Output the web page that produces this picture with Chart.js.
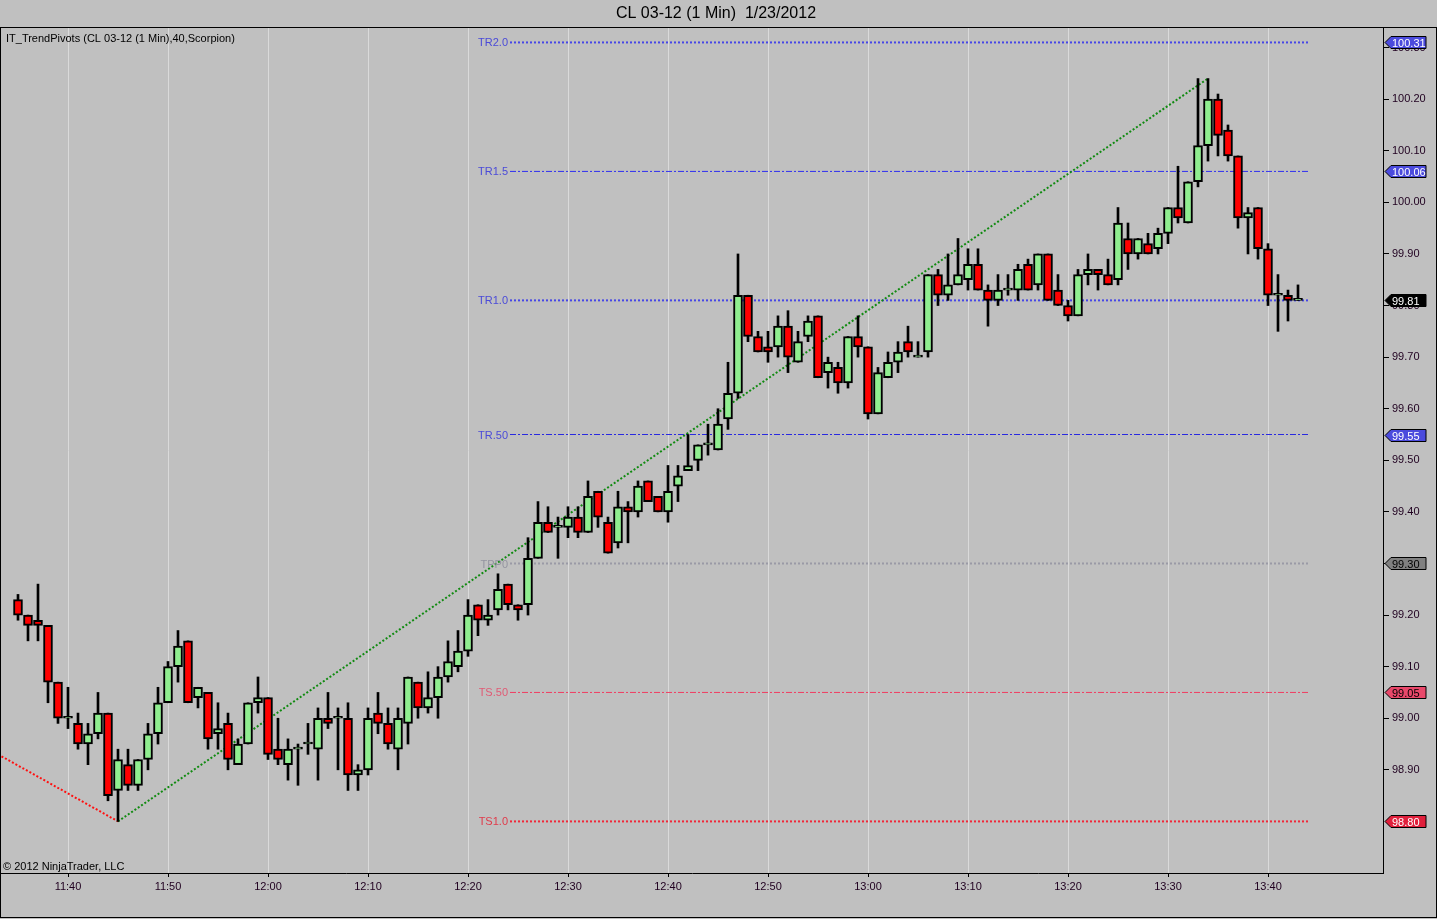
<!DOCTYPE html>
<html>
<head>
<meta charset="utf-8">
<title>CL 03-12 (1 Min) 1/23/2012</title>
<script src="https://cdn.jsdelivr.net/npm/chart.js@4.4.0/dist/chart.umd.min.js"></script>
<style>
  html, body { margin: 0; padding: 0; background: #c0c0c0; }
  #wrap { width: 1437px; height: 919px; position: relative; }
</style>
</head>
<body>
<div id="wrap"><canvas id="priceChart"></canvas></div>
<script>
// 1 minute bars, first bar at 11:35 (minutes counted from 11:00)
const firstBarMinute = 35;

const opens = [
  99.23, 99.20, 99.19, 99.18, 99.07, 99.00, 98.99, 98.95, 98.97, 99.01,
  98.86, 98.91, 98.87, 98.92, 98.97, 99.03, 99.10, 99.15, 99.04, 99.05,
  98.97, 98.99, 98.91, 98.95, 99.03, 99.04, 98.94, 98.91, 98.94, 98.95,
  98.94, 99.00, 99.00, 99.00, 98.89, 98.90, 99.01, 98.99, 98.94, 98.99,
  99.07, 99.02, 99.04, 99.08, 99.10, 99.13, 99.22, 99.19, 99.21, 99.26,
  99.22, 99.22, 99.31, 99.38, 99.37, 99.37, 99.39, 99.36, 99.44, 99.38,
  99.34, 99.41, 99.40, 99.46, 99.43, 99.40, 99.45, 99.48, 99.50, 99.53,
  99.52, 99.58, 99.63, 99.82, 99.74, 99.72, 99.72, 99.76, 99.69, 99.74,
  99.78, 99.67, 99.68, 99.65, 99.74, 99.72, 99.59, 99.66, 99.69, 99.73,
  99.70, 99.71, 99.86, 99.82, 99.84, 99.85, 99.88, 99.83, 99.81, 99.83,
  99.83, 99.88, 99.84, 99.90, 99.83, 99.80, 99.78, 99.86, 99.87, 99.86,
  99.85, 99.93, 99.90, 99.92, 99.91, 99.94, 99.99, 99.96, 100.04, 100.11,
  100.20, 100.14, 100.09, 99.97, 99.99, 99.91, 99.82, 99.82, 99.81
];
const highs = [
  99.24, 99.20, 99.26, 99.18, 99.07, 99.06, 99.01, 98.99, 99.05, 99.01,
  98.94, 98.94, 98.92, 98.99, 99.06, 99.11, 99.17, 99.15, 99.06, 99.05,
  99.03, 99.01, 98.96, 99.03, 99.08, 99.04, 99.00, 98.96, 98.95, 98.99,
  99.02, 99.05, 99.02, 99.03, 98.91, 99.02, 99.05, 99.02, 99.02, 99.08,
  99.07, 99.09, 99.10, 99.15, 99.17, 99.23, 99.22, 99.23, 99.28, 99.26,
  99.22, 99.35, 99.42, 99.41, 99.39, 99.41, 99.41, 99.46, 99.44, 99.39,
  99.44, 99.42, 99.46, 99.46, 99.43, 99.49, 99.49, 99.55, 99.53, 99.57,
  99.60, 99.69, 99.90, 99.82, 99.75, 99.75, 99.78, 99.79, 99.75, 99.78,
  99.78, 99.70, 99.69, 99.74, 99.78, 99.72, 99.68, 99.71, 99.73, 99.76,
  99.73, 99.86, 99.87, 99.90, 99.93, 99.91, 99.91, 99.84, 99.86, 99.86,
  99.88, 99.89, 99.90, 99.90, 99.86, 99.81, 99.87, 99.90, 99.87, 99.89,
  99.99, 99.96, 99.93, 99.94, 99.95, 99.99, 100.07, 100.04, 100.24, 100.24,
  100.21, 100.15, 100.09, 99.99, 99.99, 99.92, 99.86, 99.83, 99.84
];
const lows = [
  99.19, 99.15, 99.15, 99.03, 98.99, 98.98, 98.94, 98.91, 98.96, 98.84,
  98.80, 98.86, 98.86, 98.90, 98.95, 99.03, 99.07, 99.03, 99.02, 98.94,
  98.94, 98.90, 98.91, 98.95, 99.01, 98.92, 98.91, 98.88, 98.87, 98.93,
  98.88, 98.98, 98.90, 98.86, 98.86, 98.89, 98.97, 98.94, 98.90, 98.95,
  99.00, 99.01, 99.00, 99.07, 99.09, 99.12, 99.16, 99.18, 99.20, 99.21,
  99.19, 99.20, 99.31, 99.36, 99.31, 99.35, 99.35, 99.36, 99.37, 99.32,
  99.33, 99.34, 99.39, 99.42, 99.40, 99.38, 99.42, 99.48, 99.48, 99.51,
  99.52, 99.56, 99.62, 99.73, 99.71, 99.69, 99.70, 99.67, 99.69, 99.73,
  99.66, 99.64, 99.63, 99.64, 99.70, 99.58, 99.59, 99.66, 99.67, 99.70,
  99.70, 99.70, 99.80, 99.81, 99.84, 99.83, 99.83, 99.76, 99.80, 99.82,
  99.81, 99.83, 99.83, 99.81, 99.80, 99.77, 99.78, 99.84, 99.83, 99.84,
  99.84, 99.87, 99.89, 99.90, 99.90, 99.92, 99.96, 99.96, 100.03, 100.08,
  100.09, 100.08, 99.95, 99.90, 99.89, 99.80, 99.75, 99.77, 99.81
];
const closes = [
  99.20, 99.18, 99.18, 99.07, 99.00, 99.00, 98.95, 98.97, 99.01, 98.85,
  98.92, 98.87, 98.92, 98.97, 99.03, 99.10, 99.14, 99.03, 99.06, 98.96,
  98.98, 98.92, 98.95, 99.03, 99.04, 98.93, 98.92, 98.94, 98.94, 98.95,
  99.00, 98.99, 99.00, 98.89, 98.90, 99.00, 98.99, 98.95, 99.00, 99.08,
  99.02, 99.04, 99.08, 99.11, 99.13, 99.20, 99.19, 99.20, 99.25, 99.22,
  99.21, 99.31, 99.38, 99.36, 99.37, 99.39, 99.36, 99.43, 99.39, 99.32,
  99.41, 99.40, 99.45, 99.42, 99.40, 99.44, 99.47, 99.49, 99.53, 99.53,
  99.57, 99.63, 99.82, 99.74, 99.71, 99.71, 99.76, 99.70, 99.73, 99.77,
  99.66, 99.69, 99.65, 99.74, 99.72, 99.59, 99.67, 99.69, 99.71, 99.71,
  99.70, 99.86, 99.82, 99.84, 99.86, 99.88, 99.83, 99.81, 99.83, 99.83,
  99.87, 99.83, 99.90, 99.81, 99.80, 99.78, 99.86, 99.87, 99.86, 99.84,
  99.96, 99.90, 99.93, 99.90, 99.94, 99.99, 99.97, 100.04, 100.11, 100.20,
  100.13, 100.09, 99.97, 99.98, 99.91, 99.82, 99.82, 99.81, 99.81
];

// trend lines (minute, price)
const upTrendX = [45, 154];
const upTrendY = [98.80, 100.24];
const downTrendX = [33, 45];
const downTrendY = [98.93, 98.80];

// pivot levels drawn by IT_TrendPivots
const pivotNames = ['TR2.0', 'TR1.5', 'TR1.0', 'TR.50', 'TPP0', 'TS.50', 'TS1.0'];
const pivotValues = [100.31, 100.06, 99.81, 99.55, 99.30, 99.05, 98.80];
const pivotStart = 84.2;
const pivotEnd = 164;
const pivotColors = ['#4646e6', '#2e2ef0', '#4646e6', '#2a2ae0', '#9a9aa6', '#f03c60', '#f02838'];
const pivotLabelColors = ['#4a4ad8', '#4a4ad8', '#4a4ad8', '#4a4ad8', '#9494a0', '#e05a74', '#e03a4a'];
const pivotDashes = [[2, 2], [6, 2, 2, 2], [2, 2], [6, 2, 2, 2], [2, 2], [6, 2, 2, 2], [2, 2]];
const pivotWidths = [2, 1, 2, 1, 2, 1, 2];

// right hand price markers
const markerValues = [100.31, 100.06, 99.81, 99.55, 99.30, 99.05, 98.80];
const markerFills = ['#4b4bdd', '#4b4bdd', '#000000', '#4b4bdd', '#808080', '#e8486a', '#e0203c'];
const markerText = ['#ffffff', '#ffffff', '#ffffff', '#ffffff', '#000000', '#000000', '#ffffff'];

const xTickMinutes = [40, 50, 60, 70, 80, 90, 100, 110, 120, 130, 140, 150, 160];
const xTickLabels = ['11:40', '11:50', '12:00', '12:10', '12:20', '12:30', '12:40', '12:50', '13:00', '13:10', '13:20', '13:30', '13:40'];
const yTickValues = [98.90, 99.00, 99.10, 99.20, 99.30, 99.40, 99.50, 99.60, 99.70, 99.80, 99.90, 100.00, 100.10, 100.20, 100.30];

const FONT = '"Liberation Sans", Arial, sans-serif';
Chart.defaults.font.family = FONT;

const bodies = opens.map((o, i) => ({ x: firstBarMinute + i, y: [o, closes[i]] }));
const wicks = highs.map((h, i) => ({ x: firstBarMinute + i, y: [lows[i], h] }));
const bodyColors = opens.map((o, i) => closes[i] >= o ? '#90ee90' : '#ff0000');

const pivotSets = pivotValues.map((v, i) => ({
  type: 'line',
  data: [{ x: pivotStart, y: v }, { x: pivotEnd, y: v }],
  borderColor: pivotColors[i],
  borderWidth: pivotWidths[i],
  borderDash: pivotDashes[i],
  pointRadius: 0,
  order: 5
}));

const overlayPlugin = {
  id: 'overlay',
  beforeDraw(chart) {
    const ctx = chart.ctx;
    ctx.save();
    ctx.fillStyle = '#c0c0c0';
    ctx.fillRect(0, 0, chart.width, chart.height);
    ctx.restore();
  },
  afterDraw(chart) {
    const ctx = chart.ctx;
    const xs = chart.scales.x;
    const ys = chart.scales.y;
    ctx.save();

    // frame
    ctx.strokeStyle = '#000';
    ctx.lineWidth = 1;
    ctx.strokeRect(0.5, 27.5, chart.width - 1, 890);

    // title
    ctx.fillStyle = '#000';
    ctx.font = '16px ' + FONT;
    ctx.textAlign = 'center';
    ctx.textBaseline = 'middle';
    ctx.fillText('CL 03-12 (1 Min)  1/23/2012', 716, 14);

    // indicator + copyright
    ctx.font = '11px ' + FONT;
    ctx.textAlign = 'left';
    ctx.fillText('IT_TrendPivots (CL 03-12 (1 Min),40,Scorpion)', 6, 39);
    ctx.fillText('\u00a9 2012 NinjaTrader, LLC', 3, 867);

    // pivot labels
    ctx.textAlign = 'right';
    const lx = xs.getPixelForValue(pivotStart) - 2;
    pivotNames.forEach((name, i) => {
      ctx.fillStyle = pivotLabelColors[i];
      ctx.fillText(name, lx, ys.getPixelForValue(pivotValues[i]) + 1);
    });

    // price markers on the axis
    const ax = chart.chartArea.right;
    ctx.textAlign = 'left';
    markerValues.forEach((v, i) => {
      const y = Math.round(ys.getPixelForValue(v)) + 0.5;
      ctx.beginPath();
      ctx.moveTo(ax + 2, y);
      ctx.lineTo(ax + 8, y - 6);
      ctx.lineTo(ax + 43, y - 6);
      ctx.lineTo(ax + 43, y + 6);
      ctx.lineTo(ax + 8, y + 6);
      ctx.closePath();
      ctx.fillStyle = markerFills[i];
      ctx.fill();
      ctx.strokeStyle = '#000';
      ctx.stroke();
      ctx.fillStyle = markerText[i];
      ctx.fillText(v.toFixed(2), ax + 9, y + 1);
    });
    ctx.restore();
  }
};

new Chart(document.getElementById('priceChart'), {
  type: 'bar',
  data: {
    datasets: [
      {
        data: bodies,
        backgroundColor: bodyColors,
        borderColor: '#000',
        borderWidth: 2,
        borderSkipped: false,
        barThickness: 9,
        minBarLength: 2,
        grouped: false,
        order: 0
      },
      {
        data: wicks,
        backgroundColor: '#000',
        borderWidth: 0,
        barThickness: 2,
        grouped: false,
        order: 1
      },
      {
        type: 'line',
        data: upTrendX.map((x, i) => ({ x: x, y: upTrendY[i] })),
        borderColor: '#118a11',
        borderWidth: 2,
        borderDash: [2, 2],
        pointRadius: 0,
        order: 3
      },
      {
        type: 'line',
        data: downTrendX.map((x, i) => ({ x: x, y: downTrendY[i] })),
        borderColor: '#ff1010',
        borderWidth: 2,
        borderDash: [2, 2],
        pointRadius: 0,
        order: 3
      },
      ...pivotSets
    ]
  },
  options: {
    responsive: true,
    maintainAspectRatio: false,
    animation: false,
    layout: { padding: { top: 28, left: 1, right: 0, bottom: 0 } },
    plugins: {
      legend: { display: false },
      tooltip: { enabled: false },
      title: { display: false }
    },
    scales: {
      x: {
        type: 'linear',
        position: 'bottom',
        min: 33.3,
        max: 171.5,
        offset: false,
        afterBuildTicks: (scale) => { scale.ticks = xTickMinutes.map(v => ({ value: v })); },
        afterFit: (scale) => { scale.height = 46; },
        grid: { color: '#dadada', tickColor: '#000', tickLength: 4, drawOnChartArea: true, offset: false },
        border: { color: '#000', width: 1 },
        ticks: {
          color: '#200020',
          font: { size: 11 },
          padding: 3,
          maxRotation: 0,
          autoSkip: false,
          callback: (v, i) => xTickLabels[i]
        }
      },
      y: {
        type: 'linear',
        position: 'right',
        min: 98.700,
        max: 100.338,
        afterBuildTicks: (scale) => { scale.ticks = yTickValues.map(v => ({ value: v })); },
        afterFit: (scale) => { scale.width = 54; },
        grid: { drawOnChartArea: false, tickColor: '#000', tickLength: 6 },
        border: { color: '#000', width: 1 },
        ticks: {
          color: '#200020',
          font: { size: 11 },
          padding: 3,
          autoSkip: false,
          callback: (v) => v.toFixed(2)
        }
      }
    }
  },
  plugins: [overlayPlugin]
});
</script>
</body>
</html>
